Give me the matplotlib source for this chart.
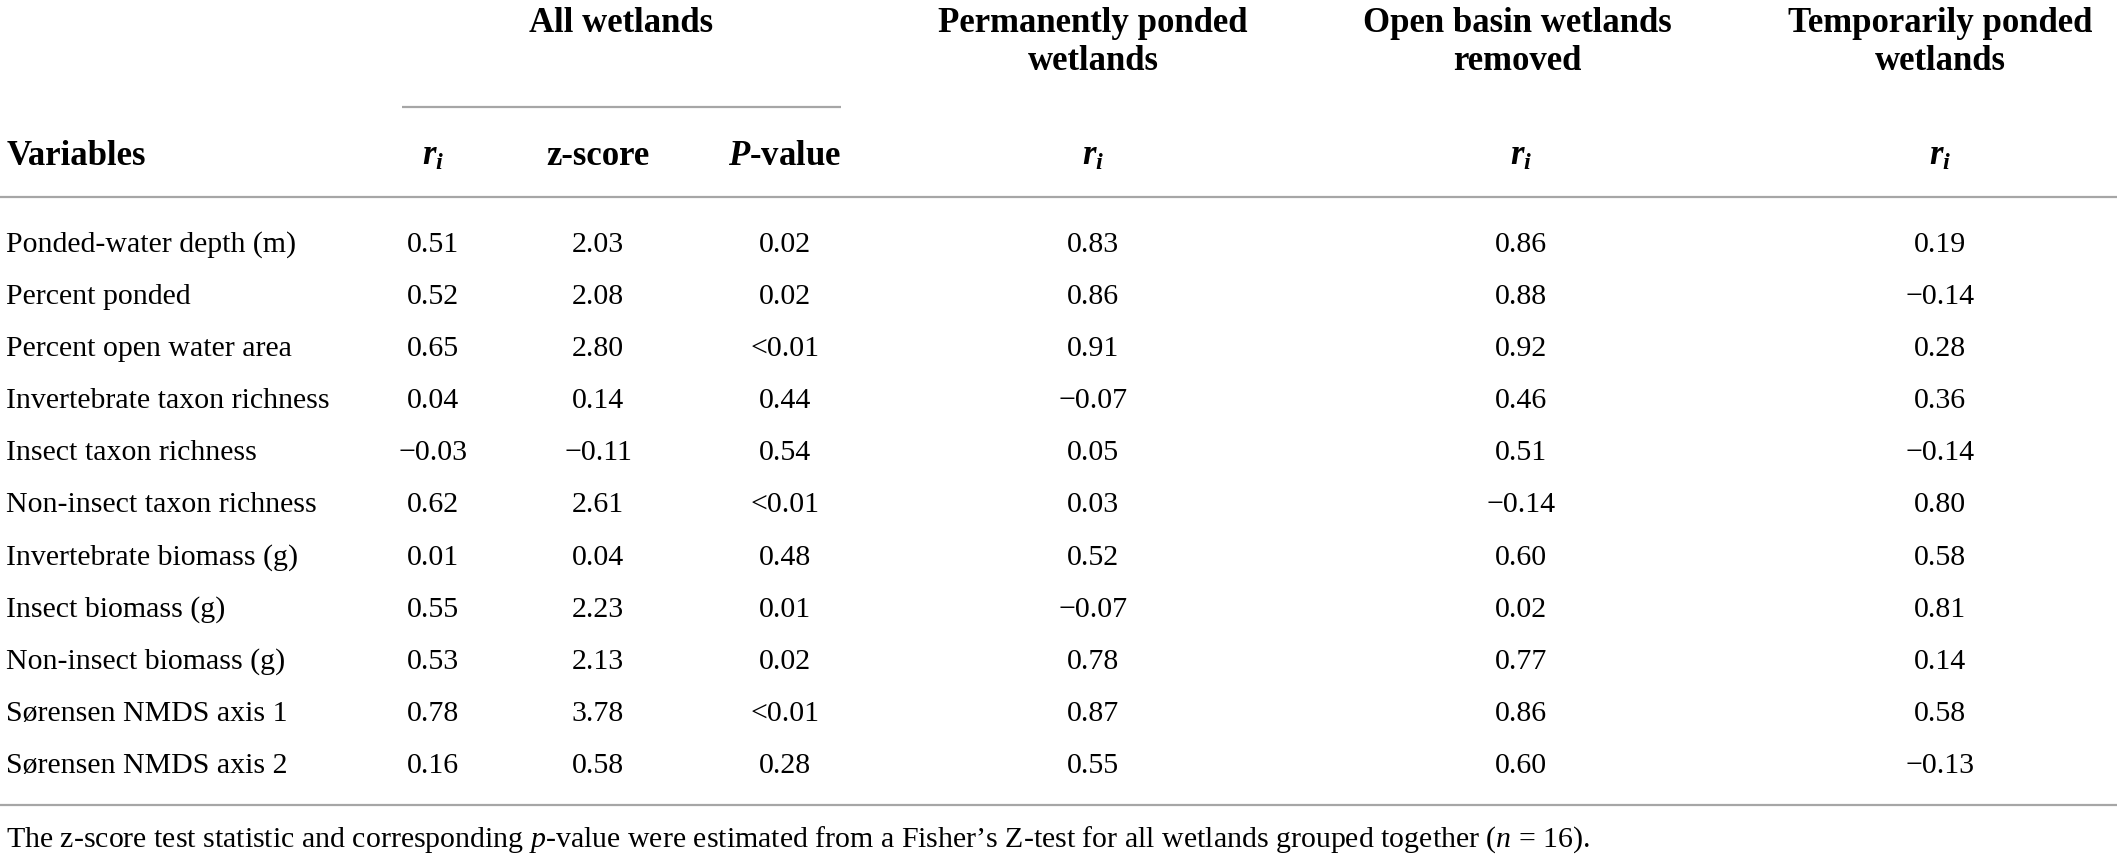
import matplotlib.pyplot as plt

plt.rcParams["font.family"] = ["Liberation Serif", "DejaVu Serif"]
plt.rcParams["mathtext.fontset"] = "custom"
plt.rcParams["mathtext.rm"] = "Liberation Serif"
plt.rcParams["mathtext.it"] = "Liberation Serif:italic"
plt.rcParams["mathtext.bf"] = "Liberation Serif:bold"
plt.rcParams["mathtext.bfit"] = "Liberation Serif:italic:bold"

variables = [
    "Ponded-water depth (m)",
    "Percent ponded",
    "Percent open water area",
    "Invertebrate taxon richness",
    "Insect taxon richness",
    "Non-insect taxon richness",
    "Invertebrate biomass (g)",
    "Insect biomass (g)",
    "Non-insect biomass (g)",
    "Sørensen NMDS axis 1",
    "Sørensen NMDS axis 2",
]
all_r = [0.51, 0.52, 0.65, 0.04, -0.03, 0.62, 0.01, 0.55, 0.53, 0.78, 0.16]
all_z = [2.03, 2.08, 2.80, 0.14, -0.11, 2.61, 0.04, 2.23, 2.13, 3.78, 0.58]
all_p = ["0.02", "0.02", "<0.01", "0.44", "0.54", "<0.01", "0.48", "0.01", "0.02", "<0.01", "0.28"]
perm_r = [0.83, 0.86, 0.91, -0.07, 0.05, 0.03, 0.52, -0.07, 0.78, 0.87, 0.55]
open_r = [0.86, 0.88, 0.92, 0.46, 0.51, -0.14, 0.60, 0.02, 0.77, 0.86, 0.60]
temp_r = [0.19, -0.14, 0.28, 0.36, -0.14, 0.80, 0.58, 0.81, 0.14, 0.58, -0.13]

group_titles = [
    ["All wetlands"],
    ["Permanently ponded", "wetlands"],
    ["Open basin wetlands", "removed"],
    ["Temporarily ponded", "wetlands"],
]
sub_headers = [r"$\mathbfit{r}_{\mathbfit{i}}$", "z-score", r"$\mathbfit{P}$-value",
               r"$\mathbfit{r}_{\mathbfit{i}}$", r"$\mathbfit{r}_{\mathbfit{i}}$", r"$\mathbfit{r}_{\mathbfit{i}}$"]
footnote = ("The z-score test statistic and corresponding $\\mathit{p}$-value were estimated "
            "from a Fisher\u2019s Z-test for all wetlands grouped together ($\\mathit{n}$ = 16).")


def fmt(v):
    return f"{v:.2f}".replace("-", "\u2212")


W, H = 2117, 859
fig = plt.figure(figsize=(W / 100, H / 100), dpi=100)
ax = fig.add_axes([0, 0, 1, 1])
ax.set_xlim(0, W)
ax.set_ylim(H, 0)
ax.axis("off")

col_x = [433, 598, 785, 1093, 1521, 1940]
group_x = [621, 1093, 1517, 1940]
body_fs = 21.5
head_fs = 25
line_col = "#a6a6a6"

# group headers
for gx, lines in zip(group_x, group_titles):
    for k, txt in enumerate(lines):
        ax.text(gx, 32 + 38 * k, txt, ha="center", va="baseline", fontsize=head_fs, fontweight="bold")

ax.plot([402, 841], [107, 107], color=line_col, lw=1.6, solid_capstyle="butt")

# sub headers
ax.text(7, 165, "Variables", ha="left", va="baseline", fontsize=head_fs, fontweight="bold")
for cx, txt in zip(col_x, sub_headers):
    ax.text(cx, 165, txt, ha="center", va="baseline", fontsize=head_fs, fontweight="bold")

ax.plot([0, W], [197, 197], color=line_col, lw=1.6, solid_capstyle="butt")

# body
columns = [
    [fmt(v) for v in all_r],
    [fmt(v) for v in all_z],
    all_p,
    [fmt(v) for v in perm_r],
    [fmt(v) for v in open_r],
    [fmt(v) for v in temp_r],
]
for i, name in enumerate(variables):
    y = 252 + 52.1 * i
    ax.text(6, y, name, ha="left", va="baseline", fontsize=body_fs)
    for cx, col in zip(col_x, columns):
        ax.text(cx, y, col[i], ha="center", va="baseline", fontsize=body_fs)

ax.plot([0, W], [805, 805], color=line_col, lw=1.6, solid_capstyle="butt")

ax.text(6, 847, footnote, ha="left", va="baseline", fontsize=body_fs)

fig.savefig("out.png", dpi=100)
